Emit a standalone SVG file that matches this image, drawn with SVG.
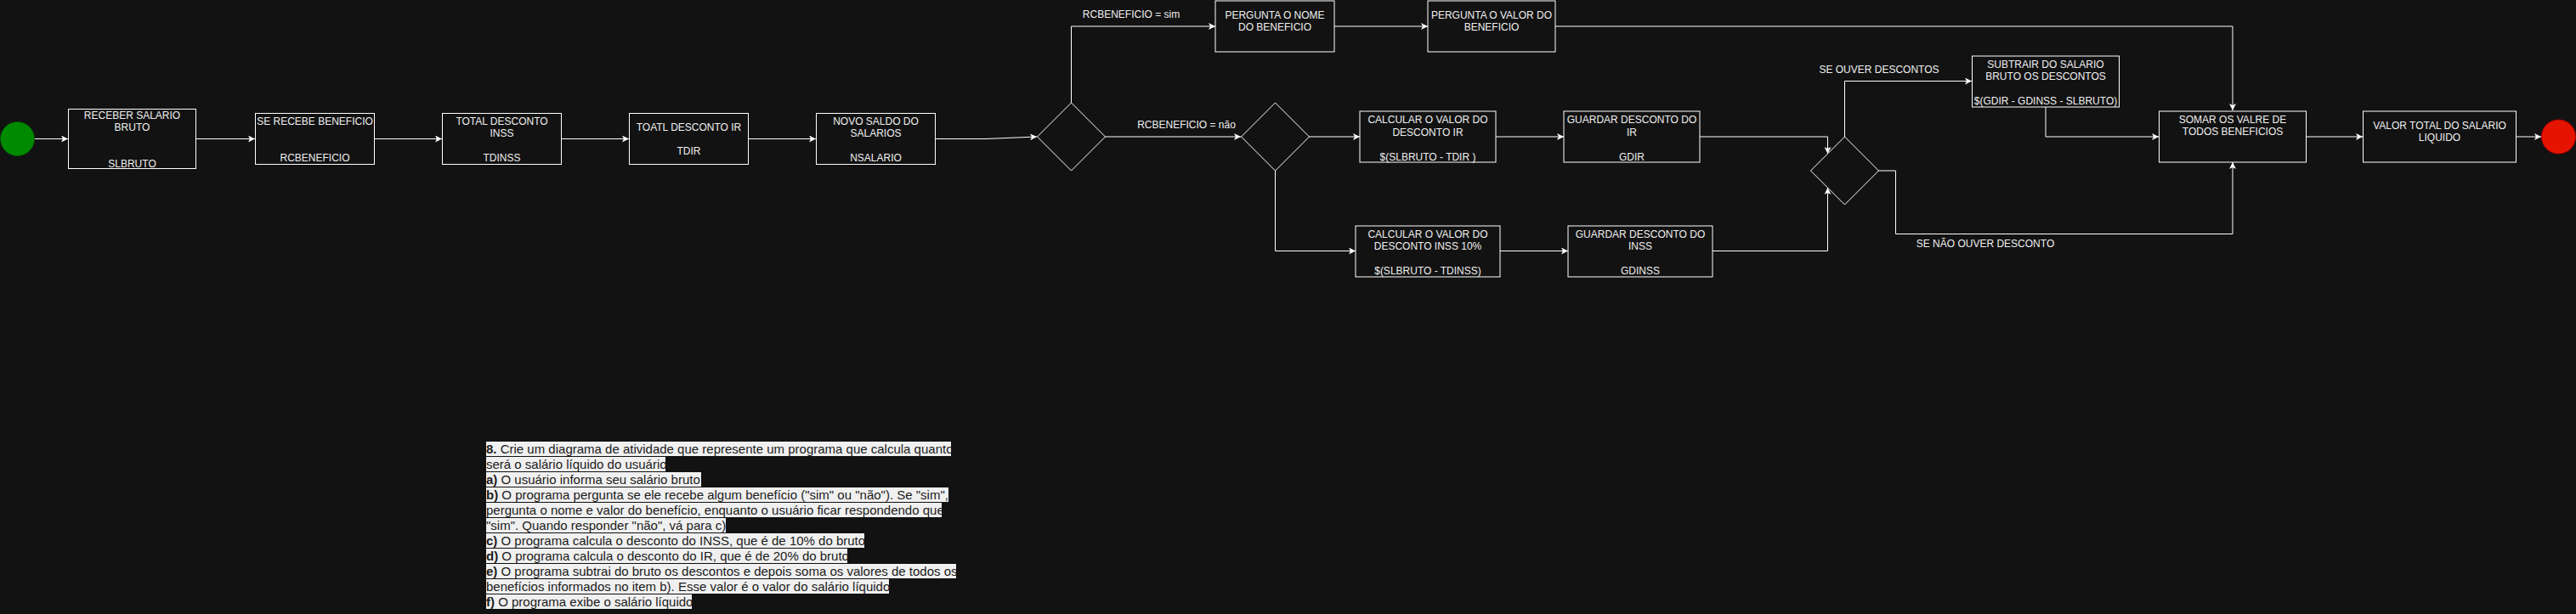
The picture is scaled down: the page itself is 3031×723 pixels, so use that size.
<svg xmlns="http://www.w3.org/2000/svg" width="3031" height="723" viewBox="0 0 3031 723">
<style>
.bg{fill:#121212}
.box{fill:#121212;stroke:#ffffff;stroke-width:1}
.t{font-family:"Liberation Sans",Arial,Helvetica,sans-serif;font-size:12px;fill:#f0f0f0;text-anchor:middle}
.edge{fill:none;stroke:#ffffff;stroke-width:1;marker-end:url(#arr)}
.hl{fill:#f0f0f0}
.doc{font-family:"Liberation Sans",Arial,Helvetica,sans-serif;font-size:15px;fill:#1b1b1b}
.b{font-weight:bold}
</style>
<defs>
<marker id="arr" viewBox="0 0 8 8" refX="8" refY="4" markerWidth="8" markerHeight="8" markerUnits="userSpaceOnUse" orient="auto">
<path d="M0,0 L8,4 L0,8 L2,4 z" fill="#ffffff"/>
</marker>
</defs>
<rect class="bg" x="0" y="0" width="3031" height="723"/>

<g id="connectors">
<path class="edge" d="M41,163.5 L80,163.5"/>
<path class="edge" d="M230.5,163.5 L300,163.5"/>
<path class="edge" d="M440.5,163.5 L520,163.5"/>
<path class="edge" d="M660.5,163.5 L740,163.5"/>
<path class="edge" d="M880.5,163.5 L960,163.5"/>
<path class="edge" d="M1100.5,163.5 L1160,163.5 L1220,161"/>
<path class="edge" d="M1260.5,121 L1260.5,31 L1430,31"/>
<text class="t" x="1331" y="21">RCBENEFICIO = sim</text>
<path class="edge" d="M1300,161 L1460,161"/>
<text class="t" x="1396" y="151">RCBENEFICIO = não</text>
<path class="edge" d="M1570,31 L1680,31"/>
<path class="edge" d="M1830,31 L2627,31 L2627,130"/>
<path class="edge" d="M1540,161 L1600,161"/>
<path class="edge" d="M1500.5,201 L1500.5,295.5 L1595,295.5"/>
<path class="edge" d="M1760,161 L1840,161"/>
<path class="edge" d="M1765,295.5 L1845,295.5"/>
<path class="edge" d="M2000,161 L2150.5,161 L2150.5,181"/>
<path class="edge" d="M2015,295.5 L2150.5,295.5 L2150.5,221"/>
<path class="edge" d="M2170.5,161 L2170.5,95.5 L2320,95.5"/>
<text class="t" x="2211" y="86">SE OUVER DESCONTOS</text>
<path class="edge" d="M2210,201 L2230.5,201 L2230.5,275.5 L2627,275.5 L2627,191"/>
<text class="t" x="2336" y="291">SE NÃO OUVER DESCONTO</text>
<path class="edge" d="M2407,126 L2407,161 L2540,161"/>
<path class="edge" d="M2713,161 L2780,161"/>
<path class="edge" d="M2960,161 L2990,161"/>
</g>

<g id="start">
<circle cx="20.5" cy="163.5" r="20" fill="#008a00" stroke="#005700" stroke-width="1"/>
</g>

<g id="n-receber">
<rect class="box" x="80.5" y="128.5" width="150" height="70"/>
<text class="t" x="155.5" y="140">RECEBER SALARIO</text>
<text class="t" x="155.5" y="154.4">BRUTO</text>
<text class="t" x="155.5" y="197">SLBRUTO</text>
</g>

<g id="n-recebe-beneficio">
<rect class="box" x="300.5" y="133.5" width="140" height="60"/>
<text class="t" x="370.5" y="147">SE RECEBE BENEFICIO</text>
<text class="t" x="370.5" y="190">RCBENEFICIO</text>
</g>

<g id="n-total-inss">
<rect class="box" x="520.5" y="133.5" width="140" height="60"/>
<text class="t" x="590.5" y="147">TOTAL DESCONTO</text>
<text class="t" x="590.5" y="161.4">INSS</text>
<text class="t" x="590.5" y="190">TDINSS</text>
</g>

<g id="n-total-ir">
<rect class="box" x="740.5" y="133.5" width="140" height="60"/>
<text class="t" x="810.5" y="153.6">TOATL DESCONTO IR</text>
<text class="t" x="810.5" y="182.4">TDIR</text>
</g>

<g id="n-novo-saldo">
<rect class="box" x="960.5" y="133.5" width="140" height="60"/>
<text class="t" x="1030.5" y="147">NOVO SALDO DO</text>
<text class="t" x="1030.5" y="161.4">SALARIOS</text>
<text class="t" x="1030.5" y="190">NSALARIO</text>
</g>

<g id="d-beneficio">
<polygon class="box" points="1260.5,121 1300.5,161 1260.5,201 1220.5,161"/>
</g>

<g id="n-pergunta-nome">
<rect class="box" x="1430" y="1" width="140" height="60"/>
<text class="t" x="1500" y="21.6">PERGUNTA O NOME</text>
<text class="t" x="1500" y="36">DO BENEFICIO</text>
</g>

<g id="n-pergunta-valor">
<rect class="box" x="1680" y="1" width="150" height="60"/>
<text class="t" x="1755" y="21.6">PERGUNTA O VALOR DO</text>
<text class="t" x="1755" y="36">BENEFICIO</text>
</g>

<g id="d-descontos">
<polygon class="box" points="1500.5,121 1540.5,161 1500.5,201 1460.5,161"/>
</g>

<g id="n-calc-ir">
<rect class="box" x="1600" y="131" width="160" height="60"/>
<text class="t" x="1680" y="145.3">CALCULAR O VALOR DO</text>
<text class="t" x="1680" y="159.7">DESCONTO IR</text>
<text class="t" x="1680" y="188.5">$(SLBRUTO - TDIR )</text>
</g>

<g id="n-guardar-ir">
<rect class="box" x="1840" y="131" width="160" height="60"/>
<text class="t" x="1920" y="145.3">GUARDAR DESCONTO DO</text>
<text class="t" x="1920" y="159.7">IR</text>
<text class="t" x="1920" y="188.5">GDIR</text>
</g>

<g id="n-calc-inss">
<rect class="box" x="1595" y="266" width="170" height="60"/>
<text class="t" x="1680" y="280">CALCULAR O VALOR DO</text>
<text class="t" x="1680" y="294.4">DESCONTO INSS 10%</text>
<text class="t" x="1680" y="323.2">$(SLBRUTO - TDINSS)</text>
</g>

<g id="n-guardar-inss">
<rect class="box" x="1845" y="266" width="170" height="60"/>
<text class="t" x="1930" y="280">GUARDAR DESCONTO DO</text>
<text class="t" x="1930" y="294.4">INSS</text>
<text class="t" x="1930" y="323.2">GDINSS</text>
</g>

<g id="d-ouver">
<polygon class="box" points="2170.5,161 2210.5,201 2170.5,241 2130.5,201"/>
</g>

<g id="n-subtrair">
<rect class="box" x="2320.5" y="66" width="173" height="60"/>
<text class="t" x="2407" y="79.6">SUBTRAIR DO SALARIO</text>
<text class="t" x="2407" y="94">BRUTO OS DESCONTOS</text>
<text class="t" x="2407" y="122.8">$(GDIR - GDINSS - SLBRUTO)</text>
</g>

<g id="n-somar">
<rect class="box" x="2540.5" y="131" width="173" height="60"/>
<text class="t" x="2627" y="144.6">SOMAR OS VALRE DE</text>
<text class="t" x="2627" y="159">TODOS BENEFICIOS</text>
</g>

<g id="n-valor-total">
<rect class="box" x="2780.5" y="131" width="180" height="60"/>
<text class="t" x="2870.5" y="151.6">VALOR TOTAL DO SALARIO</text>
<text class="t" x="2870.5" y="166">LIQUIDO</text>
</g>

<g id="end">
<circle cx="3010.5" cy="161" r="20" fill="#e51400" stroke="#b20000" stroke-width="1"/>
</g>

<g id="enunciado">
<rect class="hl" x="572" y="520" width="547" height="17"/>
<rect class="hl" x="572" y="538" width="211" height="17"/>
<rect class="hl" x="572" y="556" width="253" height="17"/>
<rect class="hl" x="572" y="574" width="544" height="17"/>
<rect class="hl" x="572" y="592" width="536" height="17"/>
<rect class="hl" x="572" y="610" width="282" height="17"/>
<rect class="hl" x="572" y="628" width="445" height="17"/>
<rect class="hl" x="572" y="646" width="425" height="17"/>
<rect class="hl" x="572" y="664" width="553" height="17"/>
<rect class="hl" x="572" y="682" width="474" height="17"/>
<rect class="hl" x="572" y="700" width="242" height="17"/>
<text class="doc" x="572" y="533.6"><tspan class="b">8.</tspan> Crie um diagrama de atividade que represente um programa que calcula quanto</text>
<text class="doc" x="572" y="551.6">será o salário líquido do usuário:</text>
<text class="doc" x="572" y="569.6"><tspan class="b">a)</tspan> O usuário informa seu salário bruto</text>
<text class="doc" x="572" y="587.6"><tspan class="b">b)</tspan> O programa pergunta se ele recebe algum benefício ("sim" ou "não"). Se "sim",</text>
<text class="doc" x="572" y="605.6">pergunta o nome e valor do benefício, enquanto o usuário ficar respondendo que</text>
<text class="doc" x="572" y="623.6">"sim". Quando responder "não", vá para c)</text>
<text class="doc" x="572" y="641.6"><tspan class="b">c)</tspan> O programa calcula o desconto do INSS, que é de 10% do bruto</text>
<text class="doc" x="572" y="659.6"><tspan class="b">d)</tspan> O programa calcula o desconto do IR, que é de 20% do bruto</text>
<text class="doc" x="572" y="677.6"><tspan class="b">e)</tspan> O programa subtrai do bruto os descontos e depois soma os valores de todos os</text>
<text class="doc" x="572" y="695.6">benefícios informados no item b). Esse valor é o valor do salário líquido</text>
<text class="doc" x="572" y="713.6"><tspan class="b">f)</tspan> O programa exibe o salário líquido</text>
</g>
</svg>
